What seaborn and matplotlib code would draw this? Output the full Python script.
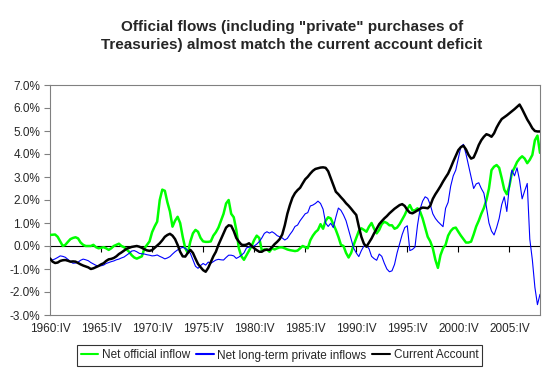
import pandas as pd
import seaborn as sns
import matplotlib.pyplot as plt

# quarterly values, % of GDP, 1960:IV - 2008:IV
official = [
    0.48, 0.49, 0.5, 0.4, 0.2, 0.0, 0.05, 0.18, 0.3, 0.35,
    0.38, 0.33, 0.15, 0.05, 0.0, 0.0, 0.0, 0.05, -0.05, -0.1,
    -0.08, -0.05, -0.1, -0.17, -0.1, 0.0, 0.05, 0.1, 0.0, -0.05,
    -0.15, -0.25, -0.4, -0.5, -0.55, -0.5, -0.45, -0.1, 0.05, 0.2,
    0.6, 0.85, 1.06, 2.0, 2.45, 2.4, 1.9, 1.5, 0.84, 1.1,
    1.27, 1.0, 0.4, -0.1, -0.3, 0.2, 0.55, 0.7, 0.62, 0.35,
    0.2, 0.18, 0.18, 0.2, 0.45, 0.6, 0.8, 1.1, 1.4, 1.85,
    2.0, 1.4, 1.25, 0.7, -0.1, -0.45, -0.6, -0.4, -0.2, 0.0,
    0.26, 0.45, 0.35, -0.2, -0.15, -0.15, -0.25, -0.1, -0.15, -0.1,
    -0.06, -0.06, -0.1, -0.15, -0.18, -0.2, -0.22, -0.2, -0.1, 0.0,
    -0.05, -0.1, 0.25, 0.45, 0.6, 0.7, 0.95, 0.75, 1.1, 1.25,
    1.2, 0.95, 0.7, 0.4, 0.05, 0.0, -0.3, -0.5, -0.3, 0.05,
    0.35, 0.65, 0.77, 0.7, 0.62, 0.84, 1.0, 0.75, 0.55, 0.7,
    0.95, 1.05, 1.0, 0.9, 0.9, 0.75, 0.8, 0.95, 1.15, 1.35,
    1.6, 1.78, 1.55, 1.55, 1.64, 1.5, 1.2, 0.8, 0.4, 0.2,
    -0.1, -0.6, -0.95, -0.4, -0.1, 0.05, 0.45, 0.65, 0.77, 0.8,
    0.62, 0.45, 0.3, 0.15, 0.15, 0.19, 0.5, 0.85, 1.1, 1.4,
    1.65, 2.0, 2.5, 3.3, 3.45, 3.52, 3.4, 2.95, 2.45, 2.25,
    2.6, 3.2, 3.4, 3.65, 3.8, 3.9, 3.8, 3.6, 3.75, 3.96,
    4.6, 4.8, 4.05,
]
private = [
    -0.58, -0.61, -0.56, -0.5, -0.43, -0.45, -0.49, -0.58, -0.68, -0.75,
    -0.74, -0.7, -0.62, -0.57, -0.6, -0.64, -0.72, -0.78, -0.84, -0.87,
    -0.86, -0.83, -0.76, -0.72, -0.68, -0.65, -0.6, -0.57, -0.52, -0.48,
    -0.4, -0.32, -0.22, -0.2, -0.25, -0.32, -0.34, -0.35, -0.38, -0.4,
    -0.43, -0.42, -0.39, -0.45, -0.5, -0.56, -0.52, -0.46, -0.35, -0.25,
    -0.17, -0.1, -0.06, -0.1, -0.2, -0.32, -0.6, -0.88, -0.97, -0.85,
    -0.76, -0.83, -0.7, -0.75, -0.68, -0.61, -0.58, -0.6, -0.61, -0.5,
    -0.4, -0.4, -0.43, -0.54, -0.48, -0.4, -0.3, -0.08, -0.05, -0.03,
    0.0, 0.08, 0.19, 0.35, 0.55, 0.62, 0.56, 0.62, 0.55, 0.45,
    0.4, 0.35, 0.26, 0.33, 0.5, 0.65, 0.85, 0.91, 1.1, 1.25,
    1.4, 1.45, 1.74, 1.78, 1.85, 1.95, 1.85, 1.6, 1.0, 0.85,
    0.99, 0.8, 1.25, 1.65, 1.55, 1.35, 1.1, 0.7, 0.3, -0.1,
    -0.3, -0.46, -0.2, 0.0, 0.02, -0.12, -0.45, -0.55, -0.62, -0.35,
    -0.45, -0.75, -1.0, -1.12, -1.08, -0.8, -0.3, 0.1, 0.5, 0.8,
    0.88, -0.2, -0.15, -0.05, 0.9, 1.6, 1.95, 2.14, 2.07, 1.8,
    1.4, 1.2, 1.06, 0.95, 0.84, 1.64, 1.9, 2.6, 3.05, 3.3,
    3.8, 4.32, 4.42, 4.0, 3.5, 3.0, 2.5, 2.7, 2.75, 2.5,
    2.3, 1.7, 1.0, 0.65, 0.48, 0.8, 1.2, 1.8, 2.14, 1.5,
    2.6, 3.3, 3.05, 3.4, 2.85, 2.05, 2.4, 2.72, 0.3, -0.6,
    -1.8, -2.55, -2.1,
]
current = [
    -0.54, -0.68, -0.74, -0.72, -0.65, -0.62, -0.61, -0.64, -0.68, -0.67,
    -0.68, -0.74, -0.8, -0.85, -0.89, -0.93, -1.0, -0.97, -0.92, -0.87,
    -0.8, -0.75, -0.65, -0.58, -0.56, -0.52, -0.45, -0.35, -0.28, -0.2,
    -0.12, -0.08, -0.04, -0.02, 0.0, -0.03, -0.08, -0.14, -0.19, -0.21,
    -0.18, -0.08, 0.02, 0.12, 0.25, 0.4, 0.48, 0.53, 0.45, 0.3,
    0.05, -0.25, -0.45, -0.46, -0.3, -0.17, -0.3, -0.55, -0.78, -0.92,
    -1.05, -1.12, -0.95, -0.7, -0.45, -0.25, 0.05, 0.3, 0.55, 0.8,
    0.9, 0.88, 0.65, 0.35, 0.19, 0.06, 0.04, 0.06, 0.12, 0.0,
    -0.1, -0.18, -0.25, -0.25, -0.18, -0.16, -0.17, -0.05, 0.08, 0.18,
    0.3, 0.5, 0.9, 1.4, 1.78, 2.1, 2.3, 2.43, 2.53, 2.72,
    2.9, 3.01, 3.15, 3.27, 3.35, 3.38, 3.41, 3.42, 3.4, 3.25,
    2.95, 2.65, 2.36, 2.25, 2.12, 2.0, 1.86, 1.75, 1.62, 1.48,
    1.35, 0.85, 0.4, 0.1, -0.03, 0.15, 0.33, 0.55, 0.75, 0.95,
    1.08, 1.2, 1.3, 1.42, 1.52, 1.62, 1.7, 1.78, 1.82, 1.74,
    1.57, 1.45, 1.42, 1.48, 1.55, 1.62, 1.67, 1.66, 1.64, 1.75,
    2.05, 2.25, 2.42, 2.6, 2.8, 2.98, 3.15, 3.4, 3.67, 3.92,
    4.17, 4.3, 4.36, 4.2, 3.96, 3.8, 3.85, 4.1, 4.39, 4.6,
    4.75, 4.86, 4.82, 4.75, 4.9, 5.15, 5.35, 5.52, 5.6, 5.68,
    5.77, 5.86, 5.95, 6.05, 6.15, 5.95, 5.72, 5.5, 5.32, 5.12,
    5.0, 4.98, 4.98,
]

series_names = ['Net official inflow', 'Net long-term private inflows', 'Current Account']
colors = ['#00ff00', '#0000ff', '#000000']
widths = [1.8, 0.8, 1.8]

# quarter labels 1960:IV, 1961:I, ...
roman = ['I', 'II', 'III', 'IV']
quarters = []
year, q = 1960, 3
for _ in range(len(current)):
    quarters.append(f"{year}:{roman[q]}")
    q += 1
    if q == 4:
        q, year = 0, year + 1

frames = []
for name, vals in zip(series_names, [official, private, current]):
    frames.append(pd.DataFrame({'idx': range(len(vals)), 'value': vals, 'series': name}))
df = pd.concat(frames, ignore_index=True)

sns.set_style('white')
plt.rcParams['font.family'] = ['Liberation Sans', 'DejaVu Sans']

fig = plt.figure(figsize=(5.47, 3.74), dpi=100)
ax = fig.add_axes([50 / 547, 59 / 374, 490 / 547, 230 / 374])

for name, col, lw in zip(series_names, colors, widths):
    sns.lineplot(data=df[df['series'] == name], x='idx', y='value', color=col,
                 linewidth=lw, label=name, ax=ax, legend=False, zorder=3)

ax.set_xlim(0, len(current) - 1)
ax.set_ylim(-3, 7)
ax.set_yticks(range(-3, 8))
ax.set_yticklabels([f"{v:.1f}%" for v in range(-3, 8)], fontsize=8.5)
tick_pos = list(range(0, len(current), 20))
ax.set_xticks(tick_pos)
ax.set_xticklabels([quarters[i] for i in tick_pos], fontsize=8.5)
ax.tick_params(axis='x', length=0, pad=6)
ax.tick_params(axis='y', length=4, direction='out', color='#808080', pad=3, left=True)
ax.set_xlabel('')
ax.set_ylabel('')
for sp in ax.spines.values():
    sp.set_color('#808080')
    sp.set_linewidth(0.8)

# zero line with category tick marks hanging below it
ax.axhline(0, color='black', linewidth=0.8, zorder=2)
sec = ax.secondary_xaxis(0.3)
sec.set_xticks(tick_pos)
sec.set_xticklabels([])
sec.xaxis.set_ticks_position('bottom')
sec.tick_params(axis='x', direction='out', length=4, color='black', width=0.8)
for sp in sec.spines.values():
    sp.set_visible(False)

fig.text(292 / 547, 1 - 36 / 374,
         'Official flows (including "private" purchases of\nTreasuries) almost match the current account deficit',
         ha='center', va='center', fontsize=11, fontweight='bold', linespacing=1.35)

handles, labels = ax.get_legend_handles_labels()
leg = fig.legend(handles, labels, loc='center', bbox_to_anchor=(279.5 / 547, 1 - 355.5 / 374),
                 ncol=3, frameon=True, fancybox=False, edgecolor='black', fontsize=8.5,
                 handlelength=1.5, handletextpad=0.3, columnspacing=0.5, borderpad=0.35)
leg.get_frame().set_linewidth(0.8)
for line in leg.get_lines():
    line.set_linewidth(1.5)

fig.savefig('out.png', dpi=100)
